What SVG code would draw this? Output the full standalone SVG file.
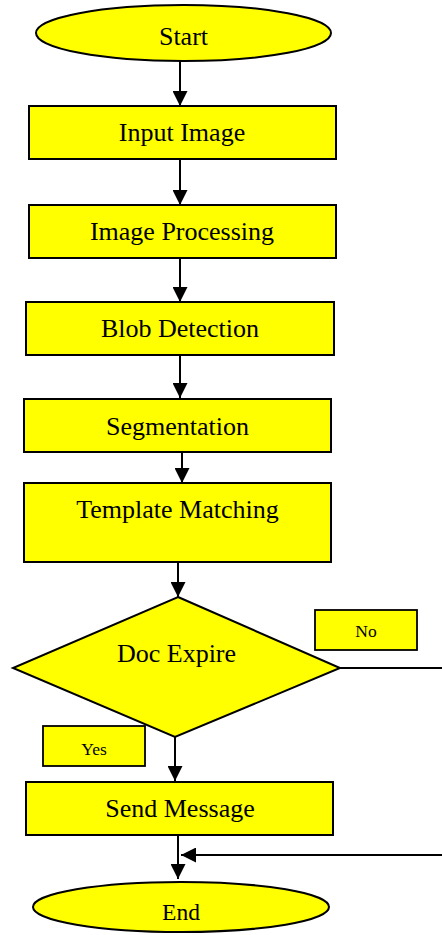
<svg xmlns="http://www.w3.org/2000/svg" width="442" height="935" viewBox="0 0 442 935">
  <style>
    .shape { fill: #ffff00; stroke: #000; stroke-width: 2; }
    .tag { fill: #ffff00; stroke: #000; stroke-width: 1.8; }
    .lbl { font-family: "Liberation Serif", "Times New Roman", serif; font-size: 26px; fill: #000; text-anchor: middle; }
    .small { font-size: 17.5px; }
    .end { font-size: 23.5px; }
    .wire { fill: none; stroke: #000; stroke-width: 2; }
  </style>
  <defs>
    <marker id="head" viewBox="0 0 15 15" refX="15" refY="7.5" markerWidth="15" markerHeight="15" markerUnits="userSpaceOnUse" orient="auto">
      <path d="M0,0 L15,7.5 L0,15 Z" fill="#000"/>
    </marker>
  </defs>

  <!-- flow connectors -->
  <g id="connectors">
    <line class="wire" x1="180" y1="61" x2="180" y2="106" marker-end="url(#head)"/>
    <line class="wire" x1="180" y1="159" x2="180" y2="205" marker-end="url(#head)"/>
    <line class="wire" x1="180" y1="258" x2="180" y2="302" marker-end="url(#head)"/>
    <line class="wire" x1="180" y1="351" x2="180" y2="398" marker-end="url(#head)"/>
    <line class="wire" x1="182" y1="452" x2="182" y2="483" marker-end="url(#head)"/>
    <line class="wire" x1="178" y1="562" x2="178" y2="597" marker-end="url(#head)"/>
    <line class="wire" x1="175" y1="737" x2="175" y2="781" marker-end="url(#head)"/>
    <line class="wire" x1="178" y1="835" x2="178" y2="879" marker-end="url(#head)"/>
    <line class="wire" x1="340" y1="668" x2="442" y2="668"/>
    <line class="wire" x1="442" y1="855" x2="181" y2="855" marker-end="url(#head)"/>
  </g>

  <g id="start">
    <ellipse class="shape" cx="183.5" cy="33" rx="147.5" ry="28"/>
    <text class="lbl" x="183.5" y="45">Start</text>
  </g>

  <g id="input-image">
    <rect class="shape" x="29" y="106" width="307" height="53"/>
    <text class="lbl" x="182" y="141">Input Image</text>
  </g>

  <g id="image-processing">
    <rect class="shape" x="29" y="205" width="307" height="53"/>
    <text class="lbl" x="182" y="240">Image Processing</text>
  </g>

  <g id="blob-detection">
    <rect class="shape" x="26" y="302" width="308" height="53"/>
    <text class="lbl" x="180" y="337">Blob Detection</text>
  </g>

  <g id="segmentation">
    <rect class="shape" x="24" y="399" width="307" height="53"/>
    <text class="lbl" x="177.5" y="435">Segmentation</text>
  </g>

  <g id="template-matching">
    <rect class="shape" x="24" y="483" width="307" height="79"/>
    <text class="lbl" x="177.5" y="518">Template Matching</text>
  </g>

  <g id="doc-expire">
    <polygon class="shape" points="178,597 340,668 175,737 13,668"/>
    <text class="lbl" x="176.5" y="662">Doc Expire</text>
  </g>

  <g id="no-label">
    <rect class="tag" x="315" y="610" width="102" height="40"/>
    <text class="lbl small" x="366" y="637">No</text>
  </g>

  <g id="yes-label">
    <rect class="tag" x="43" y="726" width="102" height="40"/>
    <text class="lbl small" x="94" y="755">Yes</text>
  </g>

  <g id="send-message">
    <rect class="shape" x="26" y="782" width="307" height="53"/>
    <text class="lbl" x="180" y="817">Send Message</text>
  </g>

  <g id="end">
    <ellipse class="shape" cx="181" cy="907" rx="148" ry="25"/>
    <text class="lbl end" x="181" y="920">End</text>
  </g>
</svg>
